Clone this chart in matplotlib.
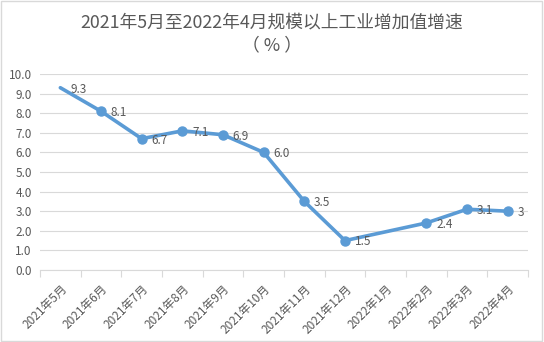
import matplotlib
matplotlib.use("Agg")
import matplotlib.pyplot as plt
import numpy as np
from matplotlib.patches import Rectangle

plt.rcParams['font.family'] = ['Noto Sans CJK SC', 'DejaVu Sans']

# 数据
months = ["2021年5月", "2021年6月", "2021年7月", "2021年8月", "2021年9月", "2021年10月",
          "2021年11月", "2021年12月", "2022年1月", "2022年2月", "2022年3月", "2022年4月"]
values = [9.3, 8.1, 6.7, 7.1, 6.9, 6.0, 3.5, 1.5, None, 2.4, 3.1, 3.0]
labels = ["9.3", "8.1", "6.7", "7.1", "6.9", "6.0", "3.5", "1.5", "", "2.4", "3.1", "3"]
yticks = [0, 1, 2, 3, 4, 5, 6, 7, 8, 9, 10]

text_col = "#595959"
line_col = "#5B9BD5"

fig = plt.figure(figsize=(5.44, 3.42), dpi=100)
ax = fig.add_axes([40 / 544, 1 - 270 / 342, 488 / 544, 196 / 342])

# 折线（跳过缺失值，连接两端）
xs = [i for i, v in enumerate(values) if v is not None]
ys = [v for v in values if v is not None]
ax.plot(xs, ys, color=line_col, lw=2.6, zorder=3, solid_capstyle='round')
ax.plot(xs[1:], ys[1:], 'o', color=line_col, ms=6.5, zorder=4)

for x, y in zip(xs, ys):
    ax.annotate(labels[x], (x, y), xytext=(7, -1), textcoords='offset points',
                ha='left', va='center', fontsize=8.5, color=text_col)

ax.set_xlim(-0.5, len(months) - 0.5)
ax.set_ylim(0, 10)
ax.set_yticks(yticks)
ax.set_yticklabels(["%.1f" % t for t in yticks], fontsize=8.5, color=text_col)
ax.tick_params(axis='y', length=0, pad=6)

ax.set_xticks(range(len(months)))
ax.set_xticklabels(months, rotation=45, ha='right', rotation_mode='anchor',
                   fontsize=8.5, color=text_col)
ax.tick_params(axis='x', which='major', length=0, pad=9)
ax.set_xticks(np.arange(-0.5, len(months), 1.0), minor=True)
ax.tick_params(axis='x', which='minor', length=5, color="#D9D9D9", width=0.8)

ax.grid(axis='y', color="#D9D9D9", lw=0.8)
ax.set_axisbelow(True)
for s in ["top", "right", "left"]:
    ax.spines[s].set_visible(False)
ax.spines["bottom"].set_color("#D9D9D9")
ax.spines["bottom"].set_linewidth(0.8)

fig.text(0.5, 1 - 22 / 342, "2021年5月至2022年4月规模以上工业增加值增速",
         ha='center', va='center', fontsize=12.8, color=text_col)
fig.text(0.5, 1 - 45 / 342, "（ % ）", ha='center', va='center', fontsize=12.8, color=text_col)

fig.patches.append(Rectangle((0.002, 0.003), 0.995, 0.994, transform=fig.transFigure,
                             fill=False, edgecolor="#D9D9D9", lw=1))

fig.savefig("out.png", dpi=100)
